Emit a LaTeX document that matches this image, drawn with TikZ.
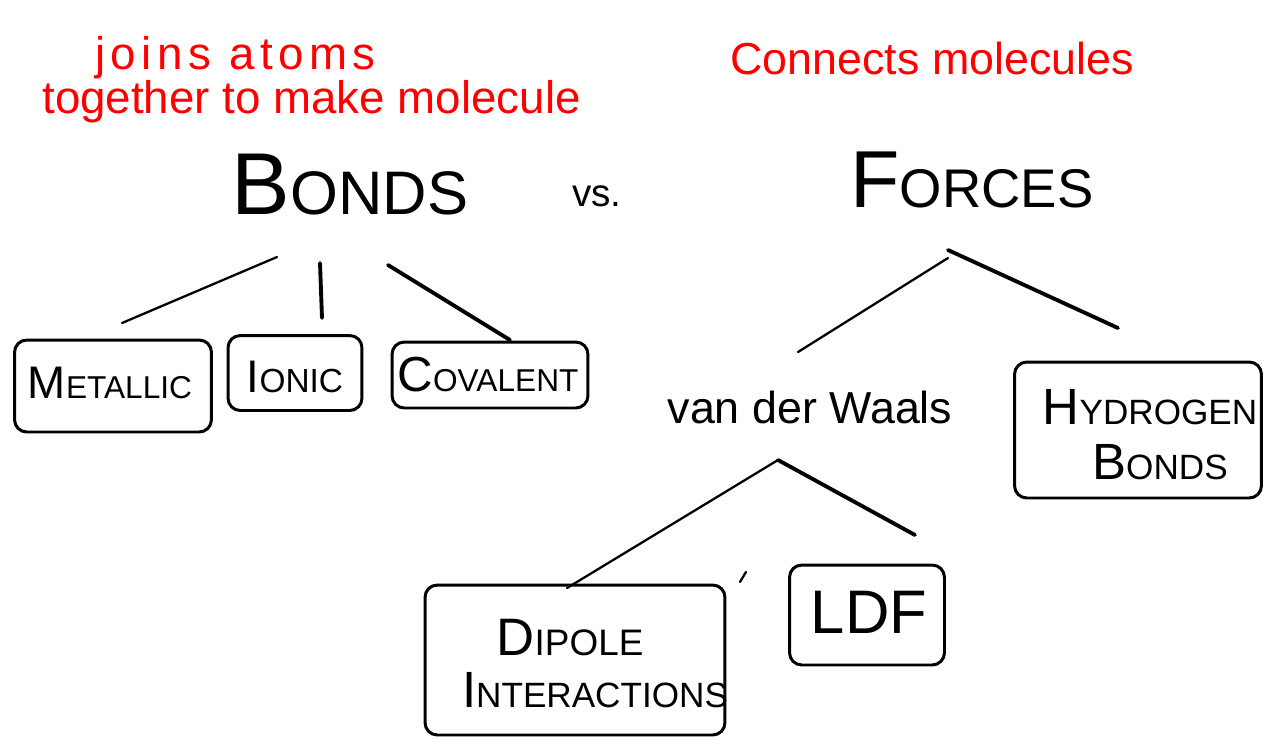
\documentclass[tikz,border=0pt]{standalone}
\usepackage{fontspec}
\setmainfont{Liberation Sans}
\newcommand{\fs}[1]{\fontsize{#1}{1.15\dimexpr#1\relax}\selectfont}
\begin{document}
\begin{tikzpicture}[x=0.02cm,y=-0.02cm,
  ink/.style={line width=1.3pt, line cap=round},
  heavy/.style={line width=2.2pt, line cap=round},
  box/.style={draw, line width=1.7pt, rounded corners=7pt, inner sep=0pt},
  note/.style={text=red, font=\fs{26pt}, inner sep=0pt, anchor=west},
  word/.style={inner sep=0pt}]
\useasboundingbox (0,0) rectangle (1265,738);

% red annotations
\node[note] (n1) at (95,58) {\addfontfeature{LetterSpace=12}joins atoms};
\node[note] (n2) at (42,102) {together to make molecule};
\node[note] (n3) at (730,58) {\fs{25.5pt}Connects molecules};

% headings
\node[word] (bonds) at (350,185) {{\fs{50pt}B}{\fs{35pt}ONDS}};
\node[word] (vs) at (597,196) {\fs{22pt}vs.};
\node[word] (forces) at (972,180) {{\fs{46pt}F}{\fs{31pt}ORCES}};

% bond types
\node[box, minimum width=3.94cm, minimum height=1.84cm] (metallic) at (113,386) {};
\node[word] (tmet) at (110,383) {{\fs{26pt}M}{\fs{18pt}ETALLIC}};
\node[box, minimum width=2.68cm, minimum height=1.5cm] (ionic) at (295,373) {};
\node[word] (tion) at (295,377) {{\fs{26pt}I}{\fs{19pt}ONIC}};
\node[box, minimum width=3.92cm, minimum height=1.32cm] (covalent) at (490,375) {};
\node[word] (tcov) at (488,375) {{\fs{28pt}C}{\fs{18pt}OVALENT}};

% forces
\node[word] (vdw) at (810,407) {\fs{25.5pt}van der Waals};
\node[box, minimum width=4.94cm, minimum height=2.72cm] (hyd) at (1138,430) {};
\node[word] (thyd) at (1150,407) {{\fs{29pt}H}{\fs{20pt}YDROGEN}};
\node[word] (tbon) at (1160,462) {{\fs{29pt}B}{\fs{20pt}ONDS}};
\node[box, minimum width=6cm, minimum height=3cm] (dip) at (575,660) {};
\node[word] (tdip) at (570,638) {{\fs{30pt}D}{\fs{21pt}IPOLE}};
\node[word] (tint) at (595,690) {{\fs{29pt}I}{\fs{20pt}NTERACTIONS}};
\node[box, minimum width=3.1cm, minimum height=2cm] (ldf) at (867,615) {};
\node[word] (tldf) at (869,612) {\fs{35pt}LDF};

% connector ends
\coordinate (b1) at (277,257); \coordinate (e1) at (122,323);
\coordinate (b2) at (320,263); \coordinate (e2) at (322,318);
\coordinate (b3) at (388,265); \coordinate (e3) at (510,340);
\coordinate (f1) at (948,258); \coordinate (g1) at (798,352);
\coordinate (f2) at (948,250); \coordinate (g2) at (1118,328);
\coordinate (v1) at (778,460); \coordinate (w1) at (567,588);
\coordinate (w2) at (915,535);
\coordinate (t1) at (746,572); \coordinate (t2) at (740,582);

\draw[ink] (b1) -- (e1);
\draw[heavy] (b2) -- (e2);
\draw[heavy] (b3) -- (e3);
\draw[ink] (f1) -- (g1);
\draw[heavy] (f2) -- (g2);
\draw[ink] (v1) -- (w1);
\draw[heavy] (v1) -- (w2);
\draw[ink] (t1) -- (t2);
\end{tikzpicture}
\end{document}
